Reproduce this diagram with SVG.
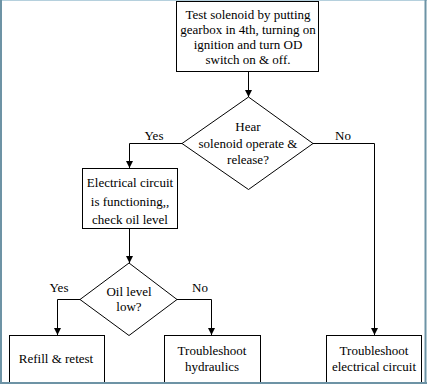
<svg xmlns="http://www.w3.org/2000/svg" width="427" height="384" viewBox="0 0 427 384">
<style>
.box{fill:#fff;stroke:#000;stroke-width:1}
.ln{fill:none;stroke:#000;stroke-width:1}
.t{font-family:"Liberation Serif","Times New Roman",serif;font-size:13px;fill:#000;text-anchor:middle}
.fr{stroke:#6d93a5;stroke-width:2}
</style>
<defs>
<marker id="ah" markerUnits="userSpaceOnUse" markerWidth="8" markerHeight="8" refX="7" refY="4" orient="auto" viewBox="0 0 8 8">
<path d="M0,0.5 L7,4 L0,7.5 Z" fill="#000"/>
</marker>
</defs>
<rect x="0" y="0" width="427" height="384" fill="#fff"/>
<g id="connectors">
<path class="ln" d="M248.5,71 V97" marker-end="url(#ah)"/>
<path class="ln" d="M182,143.5 H129.5 V168" marker-end="url(#ah)"/>
<path class="ln" d="M313,143.5 H374.5 V335" marker-end="url(#ah)"/>
<path class="ln" d="M129.5,228 V263" marker-end="url(#ah)"/>
<path class="ln" d="M80,299.5 H57.5 V335" marker-end="url(#ah)"/>
<path class="ln" d="M177,299.5 H211.5 V335" marker-end="url(#ah)"/>
<text x="154" y="140" class="t">Yes</text>
<text x="343" y="140" class="t">No</text>
<text x="59" y="292" class="t">Yes</text>
<text x="200" y="292" class="t">No</text>
</g>
<g id="start">
<rect class="box" x="176.5" y="1.5" width="142" height="70"/>
<text x="248" y="19" class="t">Test solenoid by putting</text>
<text x="248" y="34" class="t">gearbox in 4th, turning on</text>
<text x="248" y="49" class="t">ignition and turn OD</text>
<text x="248" y="64" class="t">switch on &amp; off.</text>
</g>
<g id="hear">
<polygon class="box" points="248.5,97 313,143.5 248.5,189.5 182,143.5"/>
<text x="248" y="131" class="t">Hear</text>
<text x="248" y="148" class="t">solenoid operate &amp;</text>
<text x="248" y="164" class="t">release?</text>
</g>
<g id="electrical">
<rect class="box" x="82.5" y="168.5" width="95" height="60"/>
<text x="130" y="187" class="t">Electrical circuit</text>
<text x="130" y="206" class="t">is functioning,,</text>
<text x="130" y="224" class="t">check oil level</text>
</g>
<g id="oil">
<polygon class="box" points="129,263 177,299.5 129,335.5 80,299.5"/>
<text x="129" y="296" class="t">Oil level</text>
<text x="129" y="311" class="t">low?</text>
</g>
<g id="refill">
<rect class="box" x="9.5" y="335.5" width="95" height="60"/>
<text x="56" y="363" class="t">Refill &amp; retest</text>
</g>
<g id="hydraulics">
<rect class="box" x="164.5" y="335.5" width="96" height="60"/>
<text x="212" y="355" class="t">Troubleshoot</text>
<text x="212" y="371" class="t">hydraulics</text>
</g>
<g id="elec-circuit">
<rect class="box" x="326.5" y="335.5" width="95" height="60"/>
<text x="374" y="355" class="t">Troubleshoot</text>
<text x="374" y="371" class="t">electrical circuit</text>
</g>
<g id="frame">
<line x1="0" y1="0.5" x2="427" y2="0.5" stroke="#b5d0dd" stroke-width="1"/>
<line class="fr" x1="1" y1="0" x2="1" y2="384"/>
<line class="fr" x1="425.5" y1="0" x2="425.5" y2="384"/>
<line class="fr" x1="0" y1="383" x2="427" y2="383"/>
</g>
</svg>
